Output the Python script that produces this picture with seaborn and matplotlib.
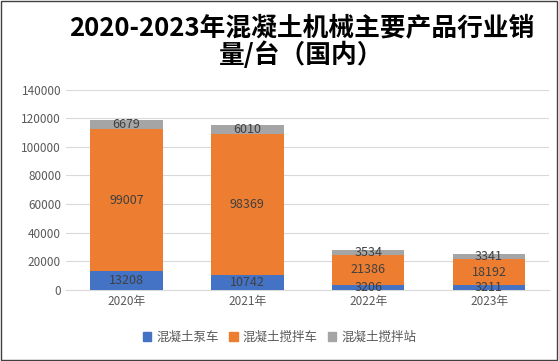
import matplotlib
matplotlib.use('Agg')
import matplotlib.pyplot as plt
import seaborn as sns
import pandas as pd
import numpy as np

years = ['2020年', '2021年', '2022年', '2023年']
series_names = ['混凝土泵车', '混凝土搅拌车', '混凝土搅拌站']
pump = [13208, 10742, 3206, 3211]
mixer_truck = [99007, 98369, 21386, 18192]
mixer_station = [6679, 6010, 3534, 3341]
colors = ['#4472C4', '#ED7D31', '#A5A5A5']

sns.set_style('white')
plt.rcParams['font.family'] = ['Noto Sans CJK SC', 'DejaVu Sans']

df = pd.DataFrame({'year': years, series_names[0]: pump,
                   series_names[1]: mixer_truck, series_names[2]: mixer_station})

fig = plt.figure(figsize=(5.59, 3.61), dpi=100)
ax = fig.add_axes([0.118, 0.197, 0.865, 0.555])

# stacked bars: draw cumulative totals, tallest first
cum = np.cumsum(df[series_names].values, axis=1)
for j in reversed(range(len(series_names))):
    sns.barplot(x=df['year'], y=cum[:, j], color=colors[j], ax=ax, width=0.6,
                saturation=1, zorder=3)
for p in ax.patches:
    p.set_linewidth(0)

bottom = np.zeros(len(years))
for name in series_names:
    vals = df[name].values
    for i, v in enumerate(vals):
        ax.text(i, bottom[i] + v / 2, str(v), ha='center', va='center',
                fontsize=9, color='#404040', zorder=20)
    bottom = bottom + vals

ax.set_ylim(0, 140000)
ax.set_yticks(np.arange(0, 140001, 20000))
ax.tick_params(axis='both', labelsize=8.5, labelcolor='#595959', length=0)
ax.set_xlabel('')
ax.set_ylabel('')
ax.yaxis.grid(True, color='#D9D9D9', linewidth=0.8, zorder=0)
ax.set_axisbelow(True)
for s in ['top', 'right', 'left']:
    ax.spines[s].set_visible(False)
ax.spines['bottom'].set_color('#D9D9D9')
ax.set_xlim(-0.5, 3.5)

handles = [plt.Rectangle((0, 0), 1, 1, color=c) for c in colors]
fig.legend(handles, series_names, loc='center', bbox_to_anchor=(0.5, 0.065),
           ncol=3, frameon=False, fontsize=9, handlelength=0.7, handleheight=0.7,
           handletextpad=0.4, columnspacing=0.8, labelcolor='#595959')

fig.text(0.539, 0.922, '2020-2023年混凝土机械主要产品行业销', ha='center', va='center',
         fontsize=18.5, fontweight='bold', color='black')
fig.text(0.539, 0.846, '量/台（国内）', ha='center', va='center',
         fontsize=18.5, fontweight='bold', color='black')

fig.patches.append(plt.Rectangle((0.002, 0.003), 0.995, 0.994, transform=fig.transFigure,
                                 fill=False, edgecolor='#404040', linewidth=1))

plt.savefig('out.png', dpi=100)
plt.close()
